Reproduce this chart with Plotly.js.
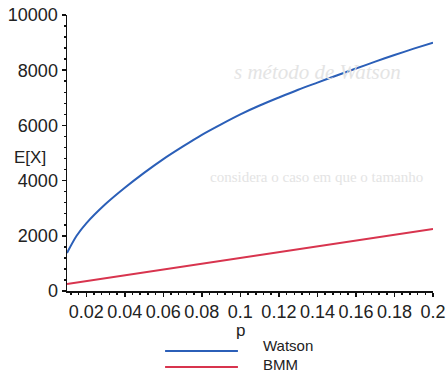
<!DOCTYPE html>
<html>
<head>
<meta charset="utf-8">
<script src="https://cdn.plot.ly/plotly-3.0.1.min.js"></script>
<style>html,body{margin:0;padding:0;background:#fff;}#chart{width:446px;height:377px;}</style>
</head>
<body>
<div id="chart"></div>
<script>
// Data
const pWatson = [0.01, 0.015, 0.02, 0.03, 0.04, 0.05, 0.06, 0.07, 0.08, 0.09, 0.10, 0.11, 0.12, 0.13, 0.14, 0.15, 0.16, 0.17, 0.18, 0.19, 0.20];
const watson  = [1380, 2000, 2450, 3150, 3740, 4280, 4780, 5230, 5660, 6040, 6400, 6720, 7010, 7290, 7550, 7810, 8060, 8310, 8550, 8780, 9000];
const pBMM = [0.01, 0.05, 0.10, 0.15, 0.20];
const bmm  = [250, 670, 1200, 1720, 2250];
const seriesNames = ["Watson", "BMM"];
const xTickVals = [0.02, 0.04, 0.06, 0.08, 0.1, 0.12, 0.14, 0.16, 0.18, 0.2];
const xTickText = ["0.02", "0.04", "0.06", "0.08", "0.1", "0.12", "0.14", "0.16", "0.18", "0.2"];
const yTickVals = [0, 2000, 4000, 6000, 8000, 10000];

const blue = "#2b5fb8";
const red = "#d8344e";
const fontFam = "Liberation Sans, Arial, sans-serif";

const traces = [
  {x: pWatson, y: watson, type: "scatter", mode: "lines", name: seriesNames[0],
   line: {color: blue, width: 2, shape: "spline", smoothing: 0.8}, showlegend: false},
  {x: pBMM, y: bmm, type: "scatter", mode: "lines", name: seriesNames[1],
   line: {color: red, width: 2}, showlegend: false}
];

const layout = {
  width: 446, height: 377,
  margin: {l: 67, r: 13, t: 15, b: 86},
  paper_bgcolor: "#fff", plot_bgcolor: "#fff",
  font: {family: fontFam, color: "#222"},
  xaxis: {
    range: [0.01, 0.2], showgrid: false, zeroline: false,
    showline: true, linecolor: "#111", linewidth: 1.5,
    ticks: "outside", ticklen: 4, tickwidth: 1.5, tickcolor: "#111",
    tickvals: xTickVals, ticktext: xTickText, tickangle: 0,
    tickfont: {size: 18, family: fontFam, color: "#222"},
    minor: {ticks: "outside", ticklen: 2, tickcolor: "#111", dtick: 0.004, tick0: 0, showgrid: false}
  },
  yaxis: {
    range: [0, 10000], showgrid: false, zeroline: false,
    showline: true, linecolor: "#111", linewidth: 1.5,
    ticks: "outside", ticklen: 4, tickwidth: 1.5, tickcolor: "#111",
    tickvals: yTickVals, ticktext: yTickVals.map(String),
    tickfont: {size: 18, family: fontFam, color: "#222"},
    minor: {ticks: "outside", ticklen: 2, tickcolor: "#111", dtick: 400, showgrid: false}
  },
  shapes: [
    {type: "line", xref: "paper", yref: "paper", x0: 0.268, x1: 0.467, y0: -0.2174, y1: -0.2174,
     line: {color: blue, width: 2}},
    {type: "line", xref: "paper", yref: "paper", x0: 0.268, x1: 0.467, y0: -0.2754, y1: -0.2754,
     line: {color: red, width: 2}}
  ],
  annotations: [
    {text: "s método de Watson", xref: "paper", yref: "paper", x: 0.451, y: 0.793,
     xanchor: "left", yanchor: "middle", showarrow: false,
     font: {family: "Liberation Serif, serif", size: 21, color: "#e4e4e4", style: "italic"}},
    {text: "considera o caso em que o tamanho", xref: "paper", yref: "paper", x: 0.385, y: 0.413,
     xanchor: "left", yanchor: "middle", showarrow: false,
     font: {family: "Liberation Serif, serif", size: 15, color: "#e4e4e4"}},
    {text: "E[X]", xref: "paper", yref: "paper", x: -0.150, y: 0.4855,
     xanchor: "left", yanchor: "middle", showarrow: false,
     font: {family: fontFam, size: 17, color: "#222"}},
    {text: "p", xref: "paper", yref: "paper", x: 0.473, y: -0.1051,
     xanchor: "center", yanchor: "top", showarrow: false, borderpad: 0,
     font: {family: fontFam, size: 17, color: "#222"}},
    {text: seriesNames[0], xref: "paper", yref: "paper", x: 0.533, y: -0.2319,
     xanchor: "left", yanchor: "bottom", showarrow: false, borderpad: 0,
     font: {family: fontFam, size: 15, color: "#222"}},
    {text: seriesNames[1], xref: "paper", yref: "paper", x: 0.533, y: -0.2319,
     xanchor: "left", yanchor: "top", showarrow: false, borderpad: 0,
     font: {family: fontFam, size: 15, color: "#222"}}
  ]
};

Plotly.newPlot("chart", traces, layout, {displayModeBar: false, staticPlot: true});
</script>
</body>
</html>
